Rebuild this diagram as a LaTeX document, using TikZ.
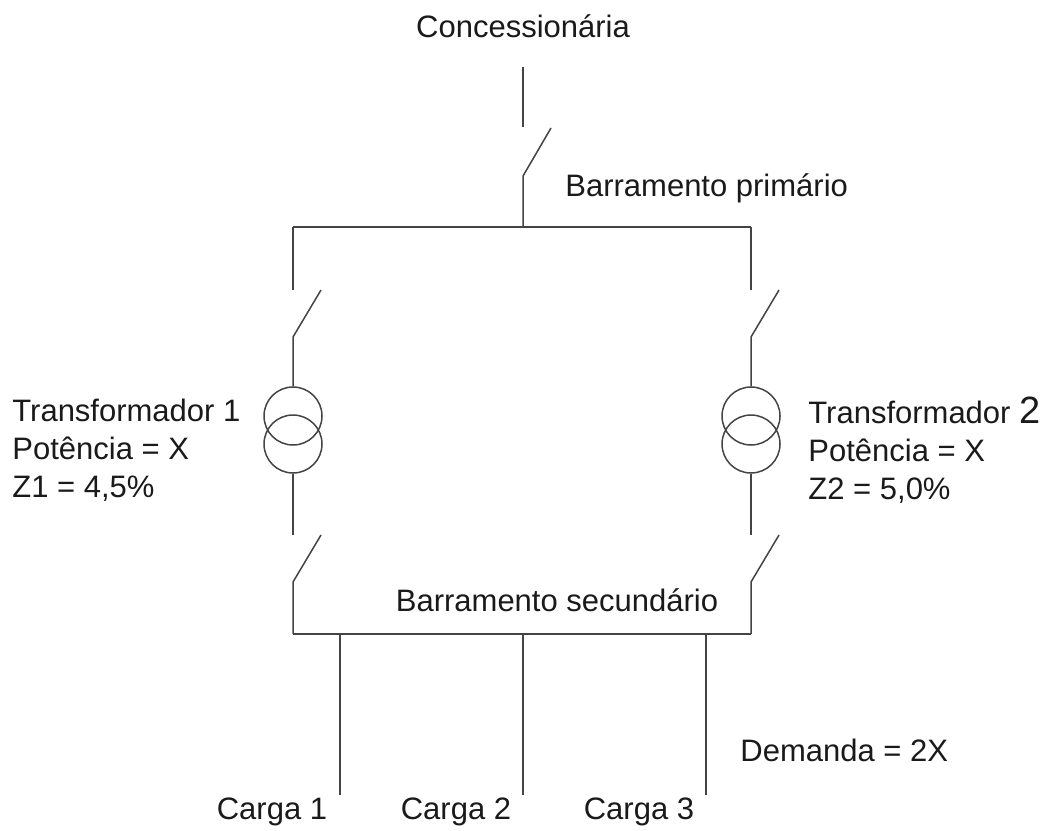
\documentclass[tikz,border=0pt]{standalone}
\usepackage{fontspec}
\setmainfont{Liberation Sans}
\usepackage{tikz}
\usetikzlibrary{positioning}
\definecolor{wirecol}{HTML}{444444}
\definecolor{txtcol}{HTML}{1A1A1A}

\begin{document}
\begin{tikzpicture}[x=0.5pt, y=-0.5pt,
    lbl/.style={inner sep=0pt, text=txtcol, font=\fontsize{15.5}{19}\selectfont},
    wire/.style={draw=wirecol, line width=0.75pt},
    trafo/.style={circle, draw=wirecol, line width=0.75pt, minimum size=29pt, inner sep=0pt}]
    \useasboundingbox (0,0) rectangle (1043,830);
    % texts
    \node[lbl] (conc) at (523,26) {Concessionária};
    \node[lbl, anchor=west] (bprim) at (565,188) {Barramento primário};
    \node[lbl] (bsec) at (557,600) {Barramento secundário};
    \node[lbl, anchor=west, align=left] (txt1) at (12,450) {Transformador 1\\Potência = X\\Z1 = 4,5\%};
    \node[lbl, anchor=west, align=left] (txt2) at (808,450) {Transformador {\fontsize{19}{19}\selectfont 2}\\Potência = X\\Z2 = 5,0\%};
    \node[lbl, anchor=west] (dem) at (740,750) {Demanda = 2X};
    \node[lbl] (c1) at (272,812) {Carga 1};
    \node[lbl] (c2) at (456,812) {Carga 2};
    \node[lbl] (c3) at (639,812) {Carga 3};
    % main switch
    \coordinate (m0) at (523,67);
    \coordinate (m1) at (523,127);
    \coordinate (m2) at (523,176);
    \coordinate (m3) at (551,128);
    \coordinate (pb) at (523,227);
    \draw[wire] (m0) -- (m1);
    \draw[wire] (m3) -- (m2) -- (pb);
    % primary bus
    \coordinate (pl) at (293,227);
    \coordinate (pr) at (751,227);
    \draw[wire] (pl) -- (pr);
    % transformers
    \node[trafo] (t1a) at (293,416) {};
    \node[trafo] (t1b) at (293,444) {};
    \node[trafo] (t2a) at (751,416) {};
    \node[trafo] (t2b) at (751,444) {};
    % secondary bus
    \coordinate (sl) at (293,634);
    \coordinate (sr) at (751,634);
    \draw[wire] (sl) -- (sr);
    % branch 1
    \coordinate (a1) at (293,290);
    \coordinate (a2) at (321,290);
    \coordinate (a3) at (293,337);
    \coordinate (a4) at (293,535);
    \coordinate (a5) at (321,535);
    \coordinate (a6) at (293,582);
    \draw[wire] (pl) -- (a1);
    \draw[wire] (a2) -- (a3) -- (t1a.north);
    \draw[wire] (t1b.south) -- (a4);
    \draw[wire] (a5) -- (a6) -- (sl);
    % branch 2
    \coordinate (b1) at (751,290);
    \coordinate (b2) at (779,290);
    \coordinate (b3) at (751,337);
    \coordinate (b4) at (751,535);
    \coordinate (b5) at (779,535);
    \coordinate (b6) at (751,582);
    \draw[wire] (pr) -- (b1);
    \draw[wire] (b2) -- (b3) -- (t2a.north);
    \draw[wire] (t2b.south) -- (b4);
    \draw[wire] (b5) -- (b6) -- (sr);
    % loads
    \coordinate (f1) at (340,634);
    \coordinate (f2) at (523,634);
    \coordinate (f3) at (706,634);
    \coordinate (e1) at (340,795);
    \coordinate (e2) at (523,795);
    \coordinate (e3) at (706,795);
    \draw[wire] (f1) -- (e1);
    \draw[wire] (f2) -- (e2);
    \draw[wire] (f3) -- (e3);
\end{tikzpicture}
\end{document}
